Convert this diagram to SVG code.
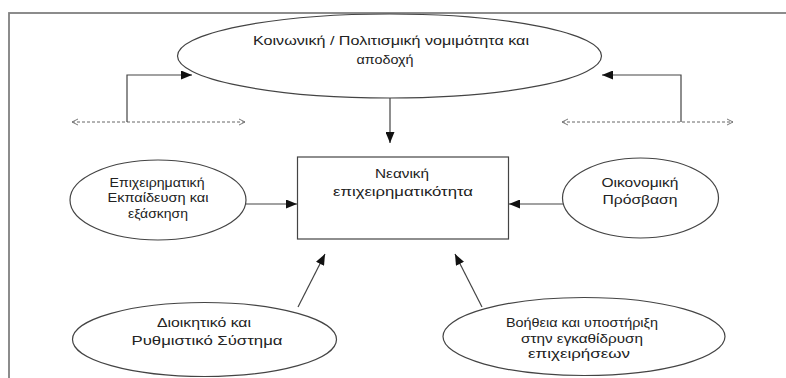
<svg xmlns="http://www.w3.org/2000/svg" width="786" height="378" viewBox="0 0 786 378">
<style>
.n{fill:#fff;stroke:#444;stroke-width:1.2}
.t{font-family:"Liberation Sans",Arial,sans-serif;fill:#222;text-anchor:middle;font-size:13px}
.c{fill:none;stroke:#444;stroke-width:1.2}
.d{fill:none;stroke:#666;stroke-width:1;stroke-dasharray:3 2}
</style>
<defs>
<marker id="ah" markerWidth="11" markerHeight="9" refX="11" refY="4.5" orient="auto" markerUnits="userSpaceOnUse">
<path d="M0,0 L11,4.5 L0,9 Z" fill="#111"/>
</marker>
<marker id="oh" markerWidth="8" markerHeight="8" refX="7" refY="4" orient="auto-start-reverse" markerUnits="userSpaceOnUse">
<path d="M1,1 L7,4 L1,7" fill="none" stroke="#777" stroke-width="1"/>
</marker>
</defs>
<rect x="0" y="0" width="786" height="378" fill="#fff"/>
<rect x="9" y="13" width="800" height="400" fill="none" stroke="#808080" stroke-width="1.8"/>
<g id="connectors">
<path class="d" d="M72,122 L245,122" marker-start="url(#oh)" marker-end="url(#oh)"/>
<path class="d" d="M562,122 L733,122" marker-start="url(#oh)" marker-end="url(#oh)"/>
<path class="c" d="M127,122 L127,75 L192,75" marker-end="url(#ah)"/>
<path class="c" d="M681,122 L681,75 L602,75" marker-end="url(#ah)"/>
<path class="c" d="M390,98 L390,143" marker-end="url(#ah)"/>
<path class="c" d="M246,204 L297,204" marker-end="url(#ah)"/>
<path class="c" d="M563,204 L509,204" marker-end="url(#ah)"/>
<path class="c" d="M298,307 L325,254" marker-end="url(#ah)"/>
<path class="c" d="M482,307 L455,254" marker-end="url(#ah)"/>
</g>
<g id="top">
<ellipse class="n" cx="389.5" cy="56" rx="212" ry="42"/>
<text class="t" x="391" y="45" textLength="276" lengthAdjust="spacingAndGlyphs">Κοινωνική / Πολιτισμική νομιμότητα και</text>
<text class="t" x="385" y="64" textLength="57" lengthAdjust="spacingAndGlyphs">αποδοχή</text>
</g>
<g id="center">
<rect class="n" x="297.5" y="157" width="211" height="82"/>
<text class="t" x="402" y="178" textLength="54" lengthAdjust="spacingAndGlyphs">Νεανική</text>
<text class="t" x="403" y="196" textLength="140" lengthAdjust="spacingAndGlyphs">επιχειρηματικότητα</text>
</g>
<g id="left">
<ellipse class="n" cx="158" cy="200" rx="88" ry="40"/>
<text class="t" x="157" y="187" textLength="95" lengthAdjust="spacingAndGlyphs">Επιχειρηματική</text>
<text class="t" x="158" y="202" textLength="101" lengthAdjust="spacingAndGlyphs">Εκπαίδευση και</text>
<text class="t" x="158" y="218" textLength="60" lengthAdjust="spacingAndGlyphs">εξάσκηση</text>
</g>
<g id="right">
<ellipse class="n" cx="640.5" cy="198" rx="78" ry="40"/>
<text class="t" x="640" y="187" textLength="77" lengthAdjust="spacingAndGlyphs">Οικονομική</text>
<text class="t" x="640" y="204" textLength="75" lengthAdjust="spacingAndGlyphs">Πρόσβαση</text>
</g>
<g id="bottomleft">
<ellipse class="n" cx="204.5" cy="339.5" rx="132" ry="37"/>
<text class="t" x="204" y="327" textLength="94" lengthAdjust="spacingAndGlyphs">Διοικητικό και</text>
<text class="t" x="207" y="345" textLength="151" lengthAdjust="spacingAndGlyphs">Ρυθμιστικό Σύστημα</text>
</g>
<g id="bottomright">
<ellipse class="n" cx="584" cy="336.5" rx="141" ry="39"/>
<text class="t" x="582" y="327" textLength="152" lengthAdjust="spacingAndGlyphs">Βοήθεια και υποστήριξη</text>
<text class="t" x="582" y="343" textLength="122" lengthAdjust="spacingAndGlyphs">στην εγκαθίδρυση</text>
<text class="t" x="579" y="358" textLength="102" lengthAdjust="spacingAndGlyphs">επιχειρήσεων</text>
</g>
</svg>
